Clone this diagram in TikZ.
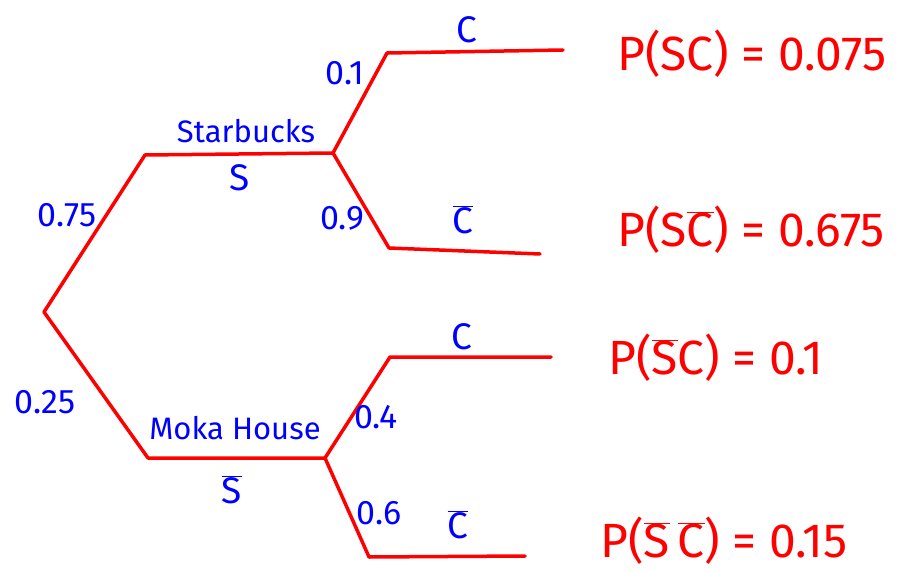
\documentclass[tikz,border=0pt]{standalone}
\usepackage{fontspec}
\setmainfont{Fira Sans}
\newcommand{\ob}[1]{$\overline{\hbox{#1}}$}
\begin{document}
\begin{tikzpicture}[x=1pt,y=-1pt,
  branch/.style={draw=red, line width=3.5pt, line cap=round, line join=round},
  wlab/.style={text=blue, font=\fontsize{31}{33}\selectfont, inner sep=0pt},
  blab/.style={text=blue, font=\fontsize{37}{39}\selectfont, inner sep=0pt},
  plab/.style={text=blue, font=\fontsize{34}{36}\selectfont, inner sep=0pt},
  rlab/.style={text=red, font=\fontsize{48}{50}\selectfont, inner sep=0pt, anchor=west}]
\useasboundingbox (0,0) rectangle (907,572);
% vertices
\coordinate (R) at (44,312);
\coordinate (S1) at (145,155);
\coordinate (S) at (333,153);
\coordinate (C1a) at (387,53);
\coordinate (C1b) at (563,50);
\coordinate (D1a) at (389,248);
\coordinate (D1b) at (540,254);
\coordinate (N1) at (148,458);
\coordinate (N) at (325,458);
\coordinate (C2a) at (390,357);
\coordinate (C2b) at (551,357);
\coordinate (D2a) at (369,557);
\coordinate (D2b) at (525,556);
% branches
\draw[branch] (R) -- (S1) -- (S);
\draw[branch] (S) -- (C1a) -- (C1b);
\draw[branch] (S) -- (D1a) -- (D1b);
\draw[branch] (R) -- (N1) -- (N);
\draw[branch] (N) -- (C2a) -- (C2b);
\draw[branch] (N) -- (D2a) -- (D2b);
% blue labels
\node[wlab] (starb) at (246,131) {Starbucks};
\node[blab] (sl) at (240,178) {S};
\node[plab] (p75) at (67,215) {0.75};
\node[plab] (p1) at (345,73) {0.1};
\node[plab] (p9) at (342,218) {0.9};
\node[blab] (c1) at (467,30) {C};
\node[blab] (c1b) at (463,220) {\ob{C}};
\node[plab] (p25) at (45,402) {0.25};
\node[wlab] (moka) at (235,428) {Moka House};
\node[blab] (snl) at (232,490) {\ob{S}};
\node[plab] (p4) at (376,417) {0.4};
\node[plab] (p6) at (379,513) {0.6};
\node[blab] (c2) at (462,337) {C};
\node[blab] (c2b) at (458,525) {\ob{C}};
% red results
\node[rlab] (r1) at (617,54) {P(SC) = 0.075};
\node[rlab] (r2) at (617,230) {P(S\ob{C}) = 0.675};
\node[rlab] (r3) at (608,358) {P(\ob{S}C) = 0.1};
\node[rlab] (r4) at (600,541) {P(\ob{S}\,\ob{C}) = 0.15};
\end{tikzpicture}
\end{document}
